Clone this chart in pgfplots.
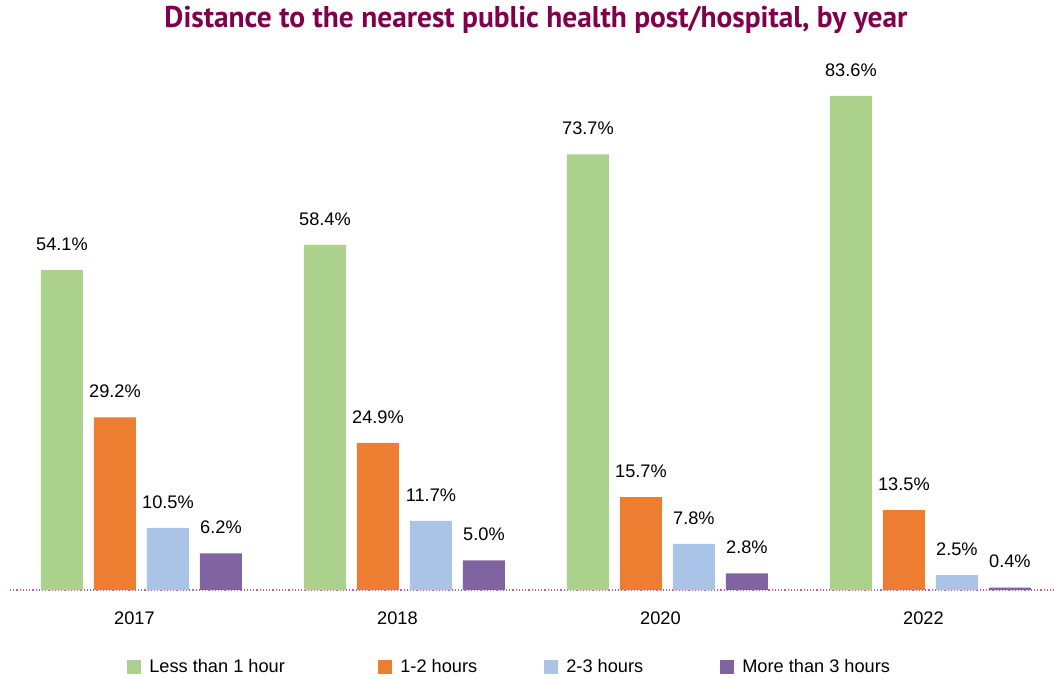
\documentclass[border=0pt]{standalone}
\usepackage{fontspec}
\setmainfont{Liberation Sans}
\newfontfamily\titlefont{PT Sans}
\usepackage{pgfplots}
\pgfplotsset{compat=1.18}
\usetikzlibrary{calc}
\definecolor{cGreen}{RGB}{172,209,140}
\definecolor{cOrange}{RGB}{237,125,49}
\definecolor{cBlue}{RGB}{170,196,232}
\definecolor{cPurple}{RGB}{128,100,162}
\definecolor{cTitle}{RGB}{130,0,75}
\definecolor{cLine}{RGB}{200,90,150}
\begin{document}
\begin{tikzpicture}
\begin{axis}[name=ax, scale only axis, width=522pt, height=266pt,
  xmin=-0.5, xmax=3.47, ymin=0, ymax=90,
  axis y line=none, axis x line*=bottom,
  x axis line style={draw=cLine, densely dotted, line width=0.6pt},
  xtick={0,1,2,3}, xticklabels={2017,2018,2020,2022},
  major tick length=0pt,
  xticklabel style={anchor=center, yshift=-14pt, xshift=-3.5pt, font=\fontsize{9.1}{11}\selectfont},
  ybar=5.5pt, bar width=21pt,
  nodes near coords={\pgfmathprintnumber[fixed,fixed zerofill,precision=1]{\pgfplotspointmeta}\%},
  nodes near coords style={anchor=center, yshift=13pt, font=\fontsize{9.1}{11}\selectfont, /pgf/number format/assume math mode=true},
  clip=false,
  legend columns=4,
  legend image code/.code={\fill[#1,draw=none] (0pt,-3.5pt) rectangle (7pt,3.5pt);},
  legend style={at={(axis description cs:0.112,-0.145)}, anchor=west, draw=none,
    inner sep=0pt, font=\fontsize{9.1}{11}\selectfont,
    nodes={inner sep=0pt},
    /tikz/every odd column/.style={column sep=4pt},
    /tikz/every even column/.style={column sep=0pt}},
  legend cell align=left,
]
\addplot[fill=cGreen, draw=none] coordinates {(0,54.1)(1,58.4)(2,73.7)(3,83.6)};
\addplot[fill=cOrange, draw=none] coordinates {(0,29.2)(1,24.9)(2,15.7)(3,13.5)};
\addplot[fill=cBlue, draw=none] coordinates {(0,10.5)(1,11.7)(2,7.8)(3,2.5)};
\addplot[fill=cPurple, draw=none] coordinates {(0,6.2)(1,5.0)(2,2.8)(3,0.4)};
\legend{\makebox[114.5pt][l]{Less than 1 hour},\makebox[72pt][l]{1-2 hours},\makebox[77pt][l]{2-3 hours},More than 3 hours}
\end{axis}
\node[font=\titlefont\bfseries\fontsize{15}{18}\selectfont, text=cTitle] at ($(ax.north)+(2pt,19pt)$) {\scalebox{0.98}[1]{Distance to the nearest public health post/hospital, by year}};
\pgfresetboundingbox
\path[use as bounding box] ($(ax.south west)+(-5pt,-44.5pt)$) rectangle ($(ax.north east)+(0pt,29pt)$);
\end{tikzpicture}
\end{document}
